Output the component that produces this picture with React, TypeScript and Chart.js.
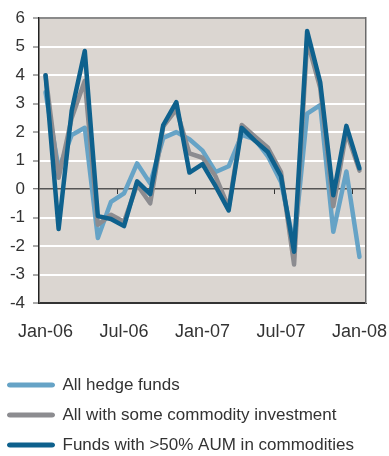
import React, { useEffect, useRef } from "react";
import { Chart, registerables } from "chart.js";

Chart.register(...registerables);

const months = [
  "Jan-06", "Feb-06", "Mar-06", "Apr-06", "May-06", "Jun-06", "Jul-06", "Aug-06", "Sep-06", "Oct-06", "Nov-06", "Dec-06",
  "Jan-07", "Feb-07", "Mar-07", "Apr-07", "May-07", "Jun-07", "Jul-07", "Aug-07", "Sep-07", "Oct-07", "Nov-07", "Dec-07",
  "Jan-08",
];
const labelledMonths = ["Jan-06", "Jul-06", "Jan-07", "Jul-07", "Jan-08"];

const allHedgeFunds = [3.4, 0.7, 1.9, 2.15, -1.72, -0.45, -0.15, 0.9, 0.2, 1.8, 2.0, 1.75, 1.35, 0.6, 0.8, 1.9, 1.75, 1.15, 0.25, -1.95, 2.65, 2.95, -1.5, 0.62, -2.38];
const someCommodity = [4.0, 0.4, 2.5, 3.8, -1.25, -0.9, -1.15, 0.15, -0.5, 2.2, 2.8, 1.25, 1.1, 0.45, -0.65, 2.25, 1.85, 1.45, 0.6, -2.65, 5.2, 3.55, -0.6, 2.0, 0.65];
const over50Commodities = [4.0, -1.4, 2.75, 4.85, -0.95, -1.05, -1.3, 0.27, -0.18, 2.25, 3.05, 0.58, 0.88, 0.1, -0.75, 2.15, 1.7, 1.3, 0.45, -2.2, 5.55, 3.75, -0.22, 2.22, 0.73];

const seriesNames = ["All hedge funds", "All with some commodity investment", "Funds with >50% AUM in commodities"];
const yMin = -4;
const yMax = 6;

const FONT = "'Liberation Sans', Arial, Helvetica, sans-serif";
const TEXT = "#333333";

const plotBg = {
  id: "plotBg",
  beforeDraw(chart: any) {
    const { ctx, chartArea } = chart;
    ctx.save();
    ctx.fillStyle = "#dbd6d1";
    ctx.fillRect(chartArea.left, chartArea.top, chartArea.width, chartArea.height);
    ctx.restore();
  },
};

export default function App() {
  const ref = useRef<HTMLCanvasElement>(null);
  useEffect(() => {
    if (!ref.current) return;
    const colors = ["#66a3c6", "#8c8c90", "#0e618d"];
    const series = [allHedgeFunds, someCommodity, over50Commodities];
    const chart = new Chart(ref.current, {
      type: "line",
      data: {
        labels: months,
        datasets: series.map((d, i) => ({
          label: seriesNames[i],
          data: d,
          borderColor: colors[i],
          backgroundColor: colors[i],
          borderWidth: 4.5,
          pointRadius: 0,
          tension: 0,
          borderJoinStyle: "round" as const,
          borderCapStyle: "round" as const,
          order: 3 - i,
          fill: false,
        })),
      },
      options: {
        animation: false,
        responsive: true,
        maintainAspectRatio: false,
        layout: { padding: { left: -5, right: 23, top: 15, bottom: -7.5 } },
        plugins: {
          tooltip: { enabled: false },
          legend: {
            position: "bottom",
            align: "start",
            labels: {
              boxWidth: 46,
              boxHeight: 3,
              padding: 13,
              color: TEXT,
              useBorderRadius: true,
              borderRadius: 2,
              font: { family: FONT, size: 17 },
              generateLabels: (c: any) =>
                c.data.datasets.map((ds: any, i: number) => ({
                  text: ds.label,
                  fillStyle: ds.borderColor,
                  strokeStyle: ds.borderColor,
                  lineWidth: 2,
                  hidden: false,
                  datasetIndex: i,
                  borderRadius: 2,
                  fontColor: TEXT,
                })),
            },
          },
        },
        scales: {
          x: {
            type: "category",
            position: "bottom",
            offset: true,
            grid: {
              display: true,
              drawOnChartArea: false,
              drawTicks: true,
              tickLength: 18,
              color: "rgba(0,0,0,0)",
            },
            border: { display: true, color: "#333333", width: 1 },
            ticks: {
              autoSkip: false,
              maxRotation: 0,
              padding: 0,
              color: TEXT,
              font: { family: FONT, size: 18 },
              callback: (_v: any, idx: number) => (labelledMonths.includes(months[idx]) ? months[idx] : ""),
            },
            afterFit: (s: any) => {
              s.height = 60.5;
            },
          },
          x2: {
            type: "category",
            position: { y: 0 },
            offset: true,
            grid: {
              offset: true,
              drawOnChartArea: false,
              drawTicks: true,
              tickLength: 5,
              tickWidth: 1,
              color: (ctx: any) => (ctx.index > 0 && ctx.index < months.length && labelledMonths.includes(months[ctx.index]) ? "#333333" : "rgba(0,0,0,0)"),
            },
            border: { display: false },
            ticks: { display: false, autoSkip: false },
          },
          y: {
            type: "linear",
            position: "left",
            min: yMin,
            max: yMax,
            grid: {
              color: (ctx: any) => {
                const v = ctx.tick?.value;
                if (v === yMax) return "#8a8a8a";
                if (v === 0) return "#555555";
                if (v === yMin) return "#333333";
                return "#ffffff";
              },
              lineWidth: (ctx: any) => (ctx.tick?.value === 0 ? 1.5 : 2),
              tickColor: "#555555",
              tickLength: 6,
              tickWidth: 1,
            },
            border: { display: true, color: "#222222", width: 1.5 },
            ticks: {
              stepSize: 1,
              padding: 8,
              color: TEXT,
              font: { family: FONT, size: 17 },
            },
            afterFit: (s: any) => {
              s.width = 44;
            },
          },
          y2: {
            type: "linear",
            position: "right",
            min: yMin,
            max: yMax,
            grid: { display: false, drawTicks: false },
            border: { display: true, color: "#6a6a6a", width: 1.5 },
            ticks: { display: false },
            afterFit: (s: any) => {
              s.width = 0;
            },
          },
        },
      },
      plugins: [plotBg],
    } as any);
    return () => chart.destroy();
  }, []);
  return (
    <div style={{ position: "absolute", left: 0, top: 0, width: 389, height: 456 }}>
      <canvas ref={ref} style={{ display: "block" }} />
    </div>
  );
}
